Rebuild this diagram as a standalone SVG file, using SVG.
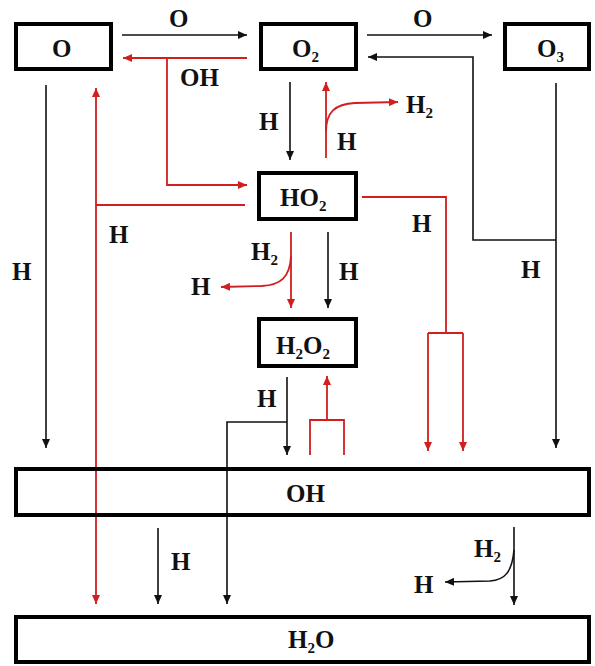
<svg xmlns="http://www.w3.org/2000/svg" width="595" height="666" viewBox="0 0 595 666">
<style>
.box{fill:#fff;stroke:#000;stroke-width:4}
.bar{fill:none;stroke:#000;stroke-width:4}
.t{font-family:"Liberation Serif","Times New Roman",serif;font-weight:bold;font-size:25px;fill:#111}
.s{font-size:15px}
.k{fill:none;stroke:#111;stroke-width:1.6}
.r{fill:none;stroke:#d11f1f;stroke-width:1.8}
</style>
<defs>
<marker id="ak" markerUnits="userSpaceOnUse" markerWidth="9" markerHeight="8" viewBox="0 0 9 8" refX="9" refY="4" orient="auto"><path d="M0,0 L9,4 L0,8 z" fill="#111"/></marker>
<marker id="ar" markerUnits="userSpaceOnUse" markerWidth="9" markerHeight="8" viewBox="0 0 9 8" refX="9" refY="4" orient="auto"><path d="M0,0 L9,4 L0,8 z" fill="#d11f1f"/></marker>
</defs>
<rect width="595" height="666" fill="#fff"/>
<g id="connectors">
<path class="k" d="M122,35 H247" marker-end="url(#ak)"/>
<path class="k" d="M367,35 H492" marker-end="url(#ak)"/>
<path class="k" d="M556,240 H473 V57 H368" marker-end="url(#ak)"/>
<path class="k" d="M556,83 V448" marker-end="url(#ak)"/>
<path class="k" d="M46,85 V448" marker-end="url(#ak)"/>
<path class="k" d="M290,82 V160" marker-end="url(#ak)"/>
<path class="k" d="M328,232 V308" marker-end="url(#ak)"/>
<path class="k" d="M287,377 V455" marker-end="url(#ak)"/>
<path class="k" d="M287,422 H227 V604" marker-end="url(#ak)"/>
<path class="k" d="M158,528 V604" marker-end="url(#ak)"/>
<path class="k" d="M514,527 V605" marker-end="url(#ak)"/>
<path class="k" d="M514,550 C512,572 505,580 490,581 L445,582" marker-end="url(#ak)"/>
<path class="r" d="M247,58 H123" marker-end="url(#ar)"/>
<path class="r" d="M167,58 V185 H247" marker-end="url(#ar)"/>
<path class="r" d="M326,158 V82" marker-end="url(#ar)"/>
<path class="r" d="M326,132 C326,112 335,104 355,103 L398,102" marker-end="url(#ar)"/>
<path class="r" d="M245,205 H96 V88" marker-end="url(#ar)"/>
<path class="r" d="M96,205 V604" marker-end="url(#ar)"/>
<path class="r" d="M362,197 H446 V333"/>
<path class="r" d="M428,333 H463"/>
<path class="r" d="M428,333 V451" marker-end="url(#ar)"/>
<path class="r" d="M463,333 V451" marker-end="url(#ar)"/>
<path class="r" d="M291,232 V308" marker-end="url(#ar)"/>
<path class="r" d="M291,256 C290,278 280,285 262,286 L221,287" marker-end="url(#ar)"/>
<path class="r" d="M327,420 V376" marker-end="url(#ar)"/>
<path class="r" d="M310,455 V420 H344 V455"/>
</g>
<g id="labels">
<text class="t" x="169" y="27">O</text>
<text class="t" x="413" y="27">O</text>
<text class="t" x="180" y="86">OH</text>
<text class="t" x="259" y="130">H</text>
<text class="t" x="406" y="113">H<tspan class="s" dy="5">2</tspan></text>
<text class="t" x="337" y="150">H</text>
<text class="t" x="12" y="280">H</text>
<text class="t" x="109" y="243">H</text>
<text class="t" x="251" y="260">H<tspan class="s" dy="5">2</tspan></text>
<text class="t" x="191" y="295">H</text>
<text class="t" x="339" y="280">H</text>
<text class="t" x="412" y="232">H</text>
<text class="t" x="521" y="278">H</text>
<text class="t" x="257" y="407">H</text>
<text class="t" x="171" y="570">H</text>
<text class="t" x="474" y="557">H<tspan class="s" dy="5">2</tspan></text>
<text class="t" x="414" y="593">H</text>
</g>
<g id="node-O"><rect class="box" x="16" y="24" width="95" height="45"/><text class="t" x="52" y="57">O</text></g>
<g id="node-O2"><rect class="box" x="261" y="24" width="95" height="45"/><text class="t" x="292" y="57">O<tspan class="s" dy="5">2</tspan></text></g>
<g id="node-O3"><rect class="box" x="505" y="24" width="84" height="45"/><text class="t" x="537" y="57">O<tspan class="s" dy="5">3</tspan></text></g>
<g id="node-HO2"><rect class="box" x="259" y="173" width="97" height="46"/><text class="t" x="280" y="206">HO<tspan class="s" dy="5">2</tspan></text></g>
<g id="node-H2O2"><rect class="box" x="259" y="319" width="97" height="47"/><text class="t" x="276" y="354">H<tspan class="s" dy="5">2</tspan><tspan dy="-5">O</tspan><tspan class="s" dy="5">2</tspan></text></g>
<g id="node-OH"><rect class="bar" x="16" y="469" width="573" height="46"/><text class="t" x="286" y="502">OH</text></g>
<g id="node-H2O"><rect class="bar" x="16" y="617" width="573" height="45"/><text class="t" x="288" y="648">H<tspan class="s" dy="5">2</tspan><tspan dy="-5">O</tspan></text></g>
</svg>
